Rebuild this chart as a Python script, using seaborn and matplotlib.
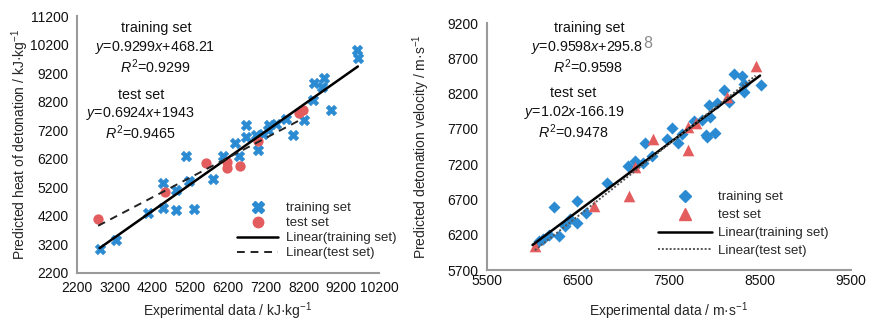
import numpy as np
import pandas as pd
import matplotlib
matplotlib.use("Agg")
import matplotlib.pyplot as plt
from matplotlib.lines import Line2D
import seaborn as sns

# ---------------- data: heat of detonation (kJ/kg) ----------------
heat_train_x = [2800, 3220, 4070, 4480, 4480, 4830, 4830, 5290, 5170, 5100, 5815,
                6060, 6390, 6490, 6680, 6680, 6940, 6985, 7115, 7250, 7290, 7470,
                7730, 7910, 8220, 8440, 8680, 8480, 8740, 8920, 9620, 9640]
heat_train_y = [3040, 3350, 4300, 4480, 5340, 5100, 4400, 4430, 5430, 6300, 5480,
                6310, 6740, 6300, 7400, 6950, 7030, 6520, 7085, 7200, 7370, 7430,
                7610, 7050, 7550, 8270, 8700, 8860, 9030, 7920, 10000, 9740]
heat_test_x = [2760, 4520, 5620, 6180, 6180, 6530, 6990, 8080, 8190]
heat_test_y = [4080, 5020, 6040, 6070, 5860, 5950, 6830, 7790, 7900]
heat_train_fit = [0.9299, 468.21]
heat_test_fit = [0.6924, 1943]
heat_xticks = [2200, 3200, 4200, 5200, 6200, 7200, 8200, 9200, 10200]
heat_yticks = [2200, 3200, 4200, 5200, 6200, 7200, 8200, 9200, 10200, 11200]

# ---------------- data: detonation velocity (m/s) ----------------
vel_train_x = [6070, 6110, 6180, 6236, 6290, 6357, 6412, 6490, 6486, 6588, 6815,
               7053, 7126, 7218, 7236, 7310, 7475, 7530, 7597, 7645, 7772, 7859,
               7907, 7921, 8005, 7951, 7943, 8024, 8102, 8157, 8212, 8303, 8322,
               8322, 8507]
vel_train_y = [6105, 6135, 6190, 6592, 6177, 6318, 6423, 6370, 6671, 6507, 6931,
               7175, 7240, 7213, 7495, 7316, 7554, 7707, 7504, 7622, 7810, 7824,
               7612, 7580, 7645, 7871, 8036, 8060, 8257, 8083, 8483, 8445, 8342,
               8224, 8328]
vel_test_x = [6027, 6673, 7064, 7126, 7322, 7707, 7707, 7800, 8139, 8451]
vel_test_y = [6046, 6600, 6752, 7165, 7560, 7401, 7721, 7786, 8145, 8586]
vel_train_fit = [0.9598, 295.88]
vel_test_fit = [1.02, -166.19]
vel_xticks = [5500, 6500, 7500, 8500, 9500]
vel_yticks = [5700, 6200, 6700, 7200, 7700, 8200, 8700, 9200]

legend_labels = ["training set", "test set", "Linear(training set)", "Linear(test set)"]

# ---------------- style ----------------
sns.set_theme(style="white")
plt.rcParams["font.family"] = ["Liberation Sans", "DejaVu Sans"]
plt.rcParams["mathtext.fontset"] = "custom"
plt.rcParams["mathtext.rm"] = "Liberation Sans"
plt.rcParams["mathtext.it"] = "Liberation Sans:italic"
plt.rcParams["mathtext.bf"] = "Liberation Sans:bold"

LEG_SIZE = 9.5
EM = LEG_SIZE * 100 / 72  # px per em for legend

BLUE = "#2a8ad2"
RED = "#e35d5f"
SPINE = "#9a9a9a"
W, H = 881, 321
LBL = 10
ANN = 10.3

fig = plt.figure(figsize=(W / 100, H / 100), dpi=100)


def px_axes(x0, x1, ytop, ybot):
    return fig.add_axes([x0 / W, 1 - ybot / H, (x1 - x0) / W, (ybot - ytop) / H])


def style_axes(ax, xticks, yticks):
    ax.set_xlim(xticks[0], xticks[-1])
    ax.set_ylim(yticks[0], yticks[-1])
    ax.set_xticks(xticks)
    ax.set_yticks(yticks)
    for s in ["top", "right"]:
        ax.spines[s].set_visible(False)
    for s in ["left", "bottom"]:
        ax.spines[s].set_color(SPINE)
        ax.spines[s].set_linewidth(1.5)
    ax.tick_params(axis="both", labelsize=10, colors=SPINE, labelcolor="#111111",
                   length=3, width=1, pad=3)
    ax.grid(False)


def ftext(x, y, s, **kw):
    return fig.text(x / W, 1 - y / H, s, ha="center", va="center",
                    fontsize=ANN, color="#111111", **kw)


def row_ls(spacing_px):
    return max(spacing_px / EM - 1.0, 0.0)


# ================= left chart =================
ax1 = px_axes(77, 379, 16, 273)
df_ht = pd.DataFrame({"x": heat_train_x, "y": heat_train_y})
df_hs = pd.DataFrame({"x": heat_test_x, "y": heat_test_y})
sns.scatterplot(data=df_ht, x="x", y="y", marker="X", s=55, color=BLUE,
                edgecolor=BLUE, linewidth=0.5, ax=ax1, zorder=3)
sns.scatterplot(data=df_hs, x="x", y="y", marker="o", s=55, color=RED,
                edgecolor=RED, linewidth=0, ax=ax1, zorder=3)
xr = np.array([min(heat_train_x), max(heat_train_x)])
ax1.plot(xr, heat_train_fit[0] * xr + heat_train_fit[1], color="black", lw=1.8, zorder=4)
xr = np.array([min(heat_test_x), max(heat_test_x)])
ax1.plot(xr, heat_test_fit[0] * xr + heat_test_fit[1], color="#222222", lw=1.4,
         ls=(0, (4, 3)), zorder=4)
style_axes(ax1, heat_xticks, heat_yticks)
ax1.set_xlabel("Experimental data / kJ·kg$^{-1}$", fontsize=LBL, labelpad=4)
ax1.set_ylabel("Predicted heat of detonation / kJ·kg$^{-1}$", fontsize=LBL, labelpad=-1)

leg1 = [Line2D([], [], ls="none", marker="X", color=BLUE, markersize=8),
        Line2D([], [], ls="none", marker="o", color=RED, markersize=7.5),
        Line2D([], [], color="black", lw=1.8),
        Line2D([], [], color="#222222", lw=1.4, ls=(0, (4, 3)))]
ax1.legend(leg1, legend_labels,
           loc="upper left", bbox_to_anchor=(237 / W, 1 - (210 - 0.6 * EM) / H),
           bbox_transform=fig.transFigure, frameon=False,
           prop={"family": "Liberation Sans", "size": LEG_SIZE},
           handlelength=41 / EM, handletextpad=8 / EM, labelspacing=row_ls(15.7) + 0.02,
           borderpad=0, borderaxespad=0)

ftext(156, 28, "training set")
ftext(155, 48, r"$y$=0.9299$x$+468.21")
ftext(155, 67, r"$R^{\mathrm{2}}$=0.9299")
ftext(141, 95, "test set")
ftext(140, 114, r"$y$=0.6924$x$+1943")
ftext(140, 133, r"$R^{\mathrm{2}}$=0.9465")

# ================= right chart =================
ax2 = px_axes(487, 851, 23, 270)
df_vt = pd.DataFrame({"x": vel_train_x, "y": vel_train_y})
df_vs = pd.DataFrame({"x": vel_test_x, "y": vel_test_y})
sns.scatterplot(data=df_vt, x="x", y="y", marker="D", s=38, color=BLUE,
                edgecolor=BLUE, linewidth=0, ax=ax2, zorder=3)
sns.scatterplot(data=df_vs, x="x", y="y", marker="^", s=70, color=RED,
                edgecolor=RED, linewidth=0, ax=ax2, zorder=3)
xr = np.array([6000, 8500])
ax2.plot(xr, vel_train_fit[0] * xr + vel_train_fit[1], color="black", lw=1.8, zorder=4)
xr = np.array([min(vel_test_x), max(vel_test_x)])
ax2.plot(xr, vel_test_fit[0] * xr + vel_test_fit[1], color="#555555", lw=1.4,
         ls=(0, (1, 1)), zorder=4)
style_axes(ax2, vel_xticks, vel_yticks)
ax2.tick_params(axis="x", direction="in")
ax2.set_xlabel("Experimental data / m·s$^{-1}$", fontsize=LBL, labelpad=9)
ax2.set_ylabel("Predicted detonation velocity / m·s$^{-1}$", fontsize=LBL, labelpad=11)

leg2 = [Line2D([], [], ls="none", marker="D", color=BLUE, markersize=6.5),
        Line2D([], [], ls="none", marker="^", color=RED, markersize=8.5),
        Line2D([], [], color="black", lw=1.8),
        Line2D([], [], color="#555555", lw=1.4, ls=(0, (1, 1)))]
ax2.legend(leg2, legend_labels,
           loc="upper left", bbox_to_anchor=(658 / W, 1 - (199 - 0.6 * EM) / H),
           bbox_transform=fig.transFigure, frameon=False,
           prop={"family": "Liberation Sans", "size": LEG_SIZE},
           handlelength=54 / EM, handletextpad=6 / EM, labelspacing=row_ls(18.6) + 0.02,
           borderpad=0, borderaxespad=0)

ftext(589, 28, "training set")
t = ftext(587, 48, r"$y$=0.9598$x$+295.8")
ftext(588, 67, r"$R^{\mathrm{2}}$=0.9598")
ftext(573, 93, "test set")
ftext(574, 113, r"$y$=1.02$x$-166.19")
ftext(573, 132, r"$R^{\mathrm{2}}$=0.9478")

fig.canvas.draw()
bb = t.get_window_extent()
fig.text((bb.x1 + 0.5) / W, 1 - 43 / H, "8", fontsize=11.5, color="#8a8a8a",
         ha="left", va="center")

fig.savefig("out.png", dpi=100)
